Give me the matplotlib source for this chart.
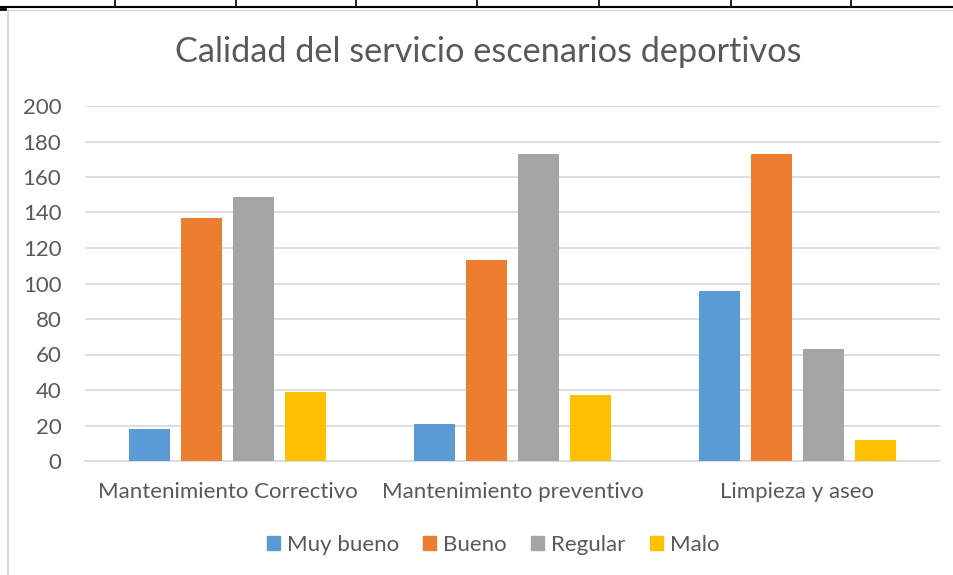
import matplotlib.pyplot as plt
import numpy as np
from matplotlib.lines import Line2D

# data
categories = ['Mantenimiento Correctivo', 'Mantenimiento preventivo', 'Limpieza y aseo']
series_names = ['Muy bueno', 'Bueno', 'Regular', 'Malo']
muy_bueno = [18, 21, 96]
bueno = [137, 113, 173]
regular = [149, 173, 63]
malo = [39, 37, 12]
y_ticks = [0, 20, 40, 60, 80, 100, 120, 140, 160, 180, 200]

colors = ['#5B9BD5', '#ED7D31', '#A5A5A5', '#FFC000']
text_gray = '#595959'
W, H = 954, 575

plt.rcParams['font.family'] = ['Lato', 'DejaVu Sans']

fig = plt.figure(figsize=(W / 100, H / 100), dpi=100)
ax = fig.add_axes([85 / W, 1 - 461 / H, (940 - 85) / W, (461 - 106) / H])

# bars: slot of 52 px in a 285 px category -> fractions of category width
slot = 52 / 285
bar_w = 41 / 285
x = np.arange(len(categories))
all_series = [muy_bueno, bueno, regular, malo]
for i, (name, vals) in enumerate(zip(series_names, all_series)):
    offs = (i - 1.5) * slot
    ax.bar(x + offs, vals, width=bar_w, color=colors[i], label=name, zorder=3)

ax.set_xlim(-0.5, 2.5)
ax.set_ylim(0, 200)
ax.set_yticks(y_ticks)
ax.set_xticks(x)
ax.set_xticklabels(categories)
ax.yaxis.grid(True, color='#d9d9d9', linewidth=1.2, zorder=0)
ax.set_axisbelow(True)
for s in ['top', 'right', 'left']:
    ax.spines[s].set_visible(False)
ax.spines['bottom'].set_color('#d9d9d9')
ax.spines['bottom'].set_linewidth(1.2)
ax.tick_params(axis='both', length=0, labelsize=16, colors=text_gray)
ax.tick_params(axis='x', pad=15)
ax.tick_params(axis='y', pad=17)

fig.text(488 / W, 1 - 52 / H, 'Calidad del servicio escenarios deportivos',
         ha='center', va='center', fontsize=24.7, color=text_gray)

handles = [plt.Rectangle((0, 0), 1, 1, color=c) for c in colors]
fig.legend(handles, series_names, loc='center', bbox_to_anchor=(493 / W, 1 - 545 / H),
           ncol=4, frameon=False, fontsize=16, labelcolor=text_gray,
           handlelength=0.6, handleheight=0.6, handletextpad=0.3, columnspacing=1.1)

# page decorations: table border on top and chart-area border
def px_line(x0, y0, x1, y1, **kw):
    fig.add_artist(Line2D([x0 / W, x1 / W], [1 - y0 / H, 1 - y1 / H],
                          transform=fig.transFigure, **kw))

px_line(0, 7, W, 7, color='black', lw=1.5)
for tx in [115, 236, 356, 477, 599, 731, 851]:
    px_line(tx, 0, tx, 7, color='black', lw=1.2)
px_line(0, 9, 5, 9, color='black', lw=2)
px_line(8, 10, W, 10, color='#d9d9d9', lw=1)
px_line(8, 10, 8, H, color='#d9d9d9', lw=1.5)

fig.savefig('out.png', dpi=100)
